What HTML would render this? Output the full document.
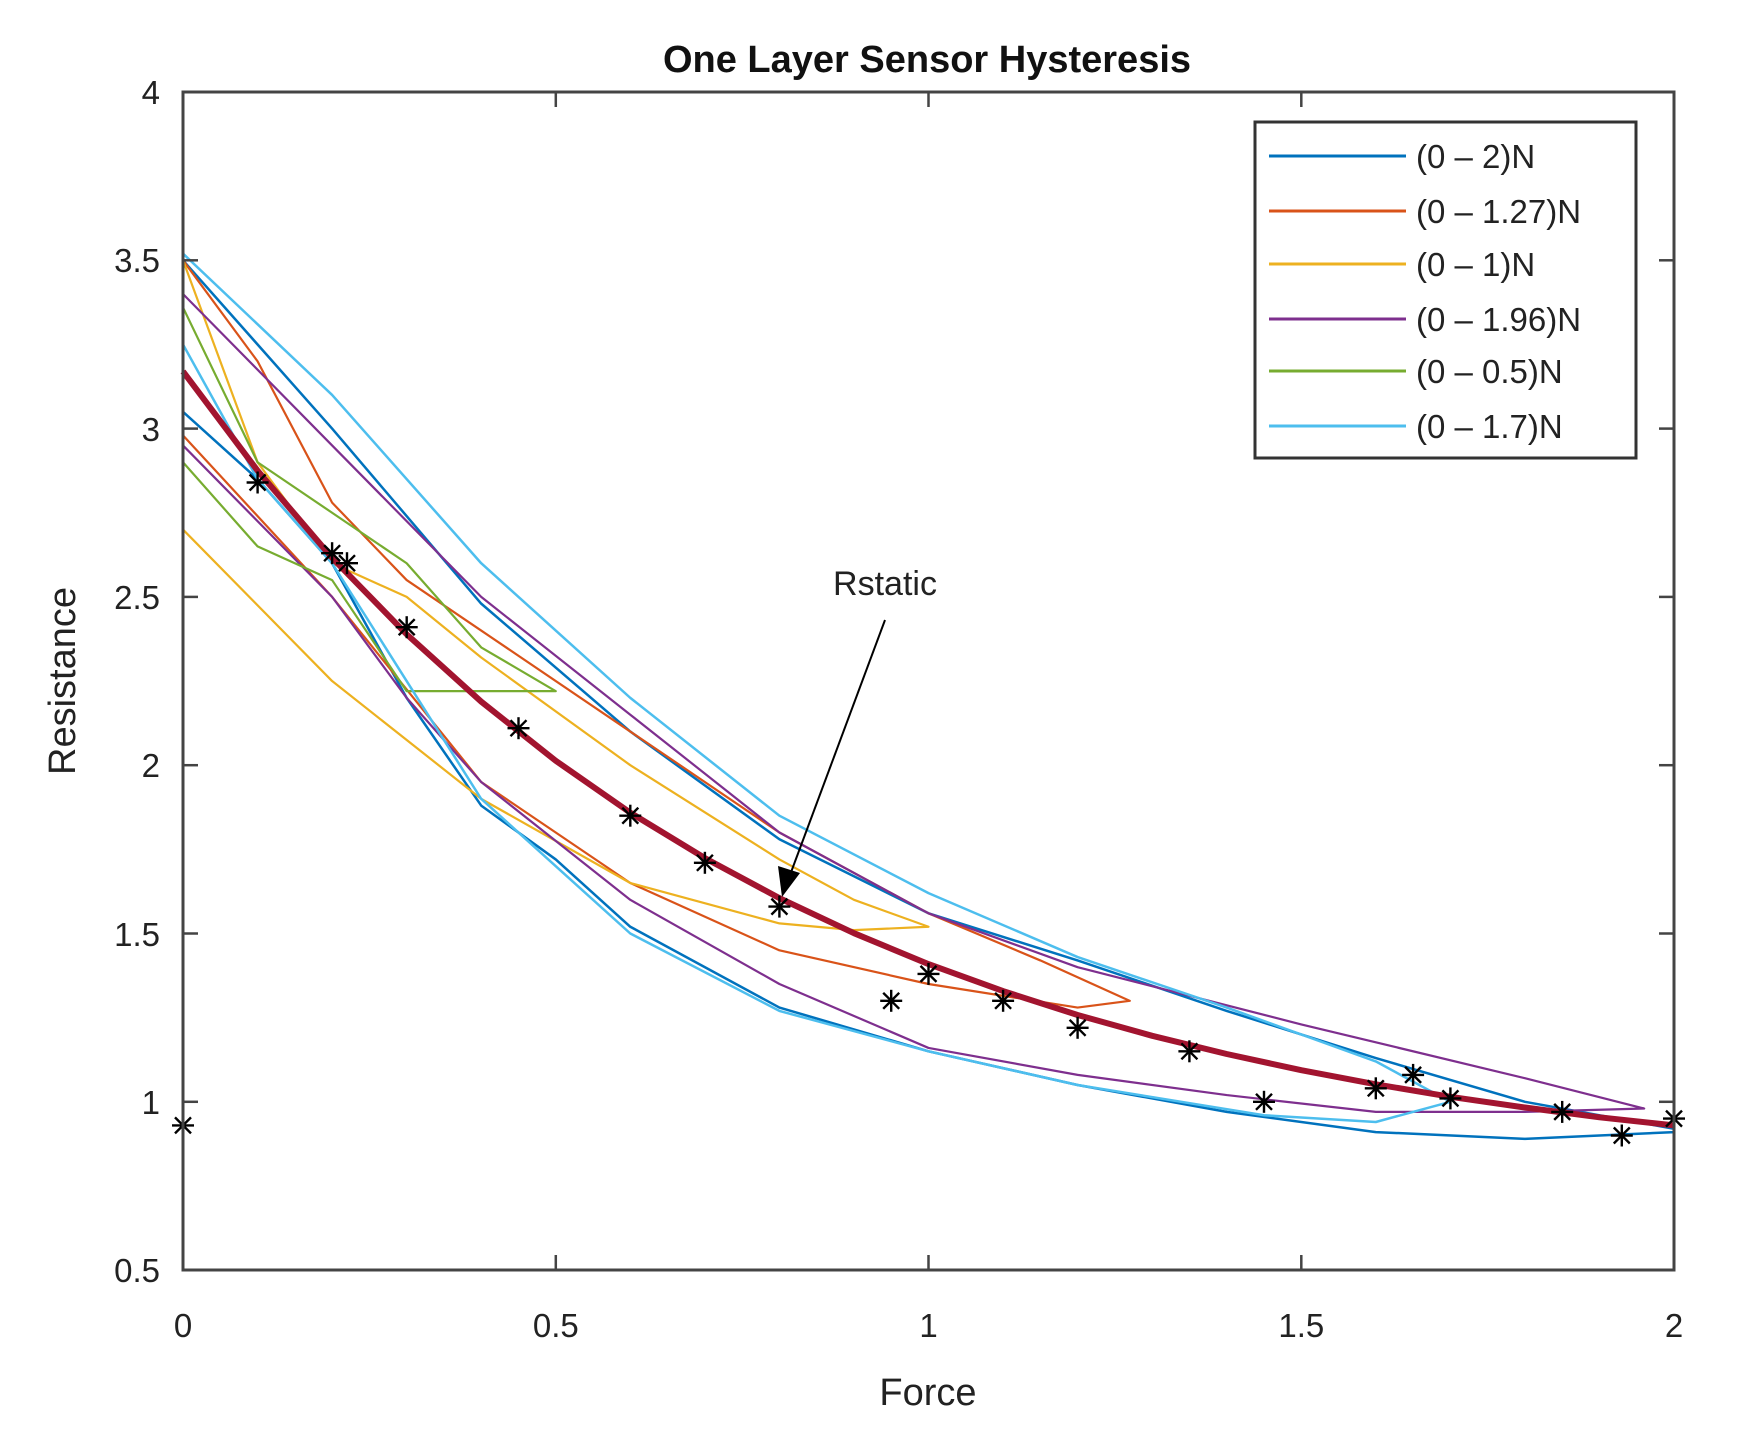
<!DOCTYPE html>
<html><head><style>
html,body{margin:0;padding:0;background:#fff;}
svg{display:block;font-family:"Liberation Sans",Arial,sans-serif;}
</style></head><body>
<svg width="1757" height="1441" viewBox="0 0 1757 1441">
<defs>
<g id="s" stroke="#000" stroke-width="2.4">
<line x1="-11" y1="0" x2="11" y2="0"/><line x1="0" y1="-11" x2="0" y2="11"/>
<line x1="-8" y1="-8" x2="8" y2="8"/><line x1="-8" y1="8" x2="8" y2="-8"/>
</g>
</defs>
<rect x="0" y="0" width="1757" height="1441" fill="#fff"/>
<text x="927" y="72" font-size="38" font-weight="bold" text-anchor="middle" fill="#111">One Layer Sensor Hysteresis</text>

<g transform="translate(183,1438.4) scale(745.5,-336.6)" fill="none" stroke-linejoin="round">
<polyline vector-effect="non-scaling-stroke" stroke="#0072bd" stroke-width="2.5" points="0,3.5 0.2,3.0 0.4,2.48 0.6,2.1 0.8,1.78 1.0,1.56 1.2,1.42 1.4,1.27 1.6,1.13 1.8,1.0 2,0.92 2,0.91 1.8,0.89 1.6,0.91 1.4,0.97 1.2,1.05 1.0,1.15 0.8,1.28 0.6,1.52 0.5,1.72 0.4,1.88 0.3,2.2 0.2,2.6 0.1,2.85 0,3.05"/>
<polyline vector-effect="non-scaling-stroke" stroke="#d95319" stroke-width="2.2" points="0,3.5 0.1,3.2 0.2,2.78 0.3,2.55 0.4,2.4 0.6,2.1 0.8,1.8 1.0,1.56 1.15,1.42 1.27,1.3 1.2,1.28 1.0,1.35 0.8,1.45 0.6,1.65 0.4,1.95 0.2,2.5 0,2.98"/>
<polyline vector-effect="non-scaling-stroke" stroke="#edb120" stroke-width="2.2" points="0,3.5 0.1,2.9 0.2,2.6 0.3,2.5 0.4,2.32 0.6,2.0 0.8,1.72 0.9,1.6 1.0,1.52 0.9,1.51 0.8,1.53 0.6,1.65 0.4,1.9 0.2,2.25 0,2.7"/>
<polyline vector-effect="non-scaling-stroke" stroke="#7e2f8e" stroke-width="2.2" points="0,3.4 0.2,2.95 0.4,2.5 0.6,2.15 0.8,1.8 1.0,1.56 1.2,1.4 1.5,1.23 1.8,1.07 1.96,0.98 1.8,0.97 1.6,0.97 1.4,1.02 1.2,1.08 1.0,1.16 0.8,1.35 0.6,1.6 0.4,1.95 0.3,2.2 0.2,2.5 0,2.95"/>
<polyline vector-effect="non-scaling-stroke" stroke="#77ac30" stroke-width="2.2" points="0,3.36 0.1,2.9 0.2,2.75 0.3,2.6 0.4,2.35 0.5,2.22 0.3,2.22 0.2,2.55 0.1,2.65 0,2.9"/>
<polyline vector-effect="non-scaling-stroke" stroke="#4dbeee" stroke-width="2.5" points="0,3.52 0.2,3.1 0.4,2.6 0.6,2.2 0.8,1.85 1.0,1.62 1.2,1.43 1.4,1.28 1.6,1.12 1.7,1.0 1.6,0.94 1.45,0.96 1.2,1.05 1.0,1.15 0.8,1.27 0.6,1.5 0.4,1.9 0.3,2.25 0.2,2.6 0.1,2.85 0,3.25"/>
</g>
<polyline fill="none" stroke="#a2142f" stroke-width="6" stroke-linejoin="round" points="183,371.4 257.6,470.7 332.1,557.8 406.7,634.3 481.2,701.6 555.8,760.8 630.3,812.7 704.9,858.1 779.4,898.1 854,933.2 928.5,964.1 1003.1,991.1 1077.6,1015.0 1152.2,1035.8 1226.7,1054.0 1301.3,1070.2 1375.8,1084.3 1450.4,1096.8 1524.9,1107.5 1599.5,1117.3 1674,1125.4"/>

<g>
<use href="#s" x="183" y="1125.4"/><use href="#s" x="257.6" y="482.5"/><use href="#s" x="332.1" y="553.2"/>
<use href="#s" x="347" y="563.2"/><use href="#s" x="406.7" y="627.2"/><use href="#s" x="518.5" y="728.2"/>
<use href="#s" x="630.3" y="815.7"/><use href="#s" x="704.9" y="862.8"/><use href="#s" x="779.4" y="906.6"/>
<use href="#s" x="891.2" y="1000.8"/><use href="#s" x="928.5" y="973.9"/><use href="#s" x="1003.1" y="1000.8"/>
<use href="#s" x="1077.6" y="1027.8"/><use href="#s" x="1189.4" y="1051.3"/><use href="#s" x="1264" y="1101.8"/>
<use href="#s" x="1375.8" y="1088.3"/><use href="#s" x="1413.1" y="1074.9"/><use href="#s" x="1450.4" y="1098.4"/>
<use href="#s" x="1562.2" y="1111.9"/><use href="#s" x="1621.8" y="1135.5"/><use href="#s" x="1674" y="1118.6"/>
</g>

<line x1="885" y1="620" x2="790" y2="875" stroke="#000" stroke-width="2"/>
<polygon points="782,897 778,866 800,873" fill="#000"/>
<text x="885" y="595" font-size="34" text-anchor="middle" fill="#222">Rstatic</text>

<rect x="183" y="92" width="1491" height="1178" fill="none" stroke="#444" stroke-width="3"/>
<g stroke="#444" stroke-width="2.5">
<line x1="555.8" y1="1270" x2="555.8" y2="1255"/><line x1="928.5" y1="1270" x2="928.5" y2="1255"/><line x1="1301.3" y1="1270" x2="1301.3" y2="1255"/>
<line x1="555.8" y1="92" x2="555.8" y2="107"/><line x1="928.5" y1="92" x2="928.5" y2="107"/><line x1="1301.3" y1="92" x2="1301.3" y2="107"/>
<line x1="183" y1="260.3" x2="198" y2="260.3"/><line x1="183" y1="428.6" x2="198" y2="428.6"/><line x1="183" y1="596.9" x2="198" y2="596.9"/><line x1="183" y1="765.2" x2="198" y2="765.2"/><line x1="183" y1="933.5" x2="198" y2="933.5"/><line x1="183" y1="1101.8" x2="198" y2="1101.8"/>
<line x1="1674" y1="260.3" x2="1659" y2="260.3"/><line x1="1674" y1="428.6" x2="1659" y2="428.6"/><line x1="1674" y1="596.9" x2="1659" y2="596.9"/><line x1="1674" y1="765.2" x2="1659" y2="765.2"/><line x1="1674" y1="933.5" x2="1659" y2="933.5"/><line x1="1674" y1="1101.8" x2="1659" y2="1101.8"/>
</g>
<g font-size="33" fill="#222" text-anchor="end">
<text x="160" y="104">4</text><text x="160" y="272">3.5</text><text x="160" y="441">3</text><text x="160" y="609">2.5</text>
<text x="160" y="777">2</text><text x="160" y="946">1.5</text><text x="160" y="1114">1</text><text x="160" y="1282">0.5</text>
</g>
<g font-size="33" fill="#222" text-anchor="middle">
<text x="183" y="1337">0</text><text x="555.8" y="1337">0.5</text><text x="928.5" y="1337">1</text><text x="1301.3" y="1337">1.5</text><text x="1674" y="1337">2</text>
<text x="928" y="1405" font-size="38">Force</text>
</g>
<text transform="translate(75,681) rotate(-90)" font-size="38" fill="#222" text-anchor="middle">Resistance</text>

<rect x="1255" y="122" width="381" height="336" fill="#fff" stroke="#333" stroke-width="3"/>
<g stroke-width="3">
<line x1="1269" y1="156" x2="1406" y2="156" stroke="#0072bd"/>
<line x1="1269" y1="211" x2="1406" y2="211" stroke="#d95319"/>
<line x1="1269" y1="264" x2="1406" y2="264" stroke="#edb120"/>
<line x1="1269" y1="319" x2="1406" y2="319" stroke="#7e2f8e"/>
<line x1="1269" y1="371" x2="1406" y2="371" stroke="#77ac30"/>
<line x1="1269" y1="426" x2="1406" y2="426" stroke="#4dbeee"/>
</g>
<g font-size="33" fill="#222">
<text x="1416" y="168">(0 – 2)N</text><text x="1416" y="223">(0 – 1.27)N</text><text x="1416" y="276">(0 – 1)N</text>
<text x="1416" y="331">(0 – 1.96)N</text><text x="1416" y="383">(0 – 0.5)N</text><text x="1416" y="438">(0 – 1.7)N</text>
</g>
</svg>
</body></html>
